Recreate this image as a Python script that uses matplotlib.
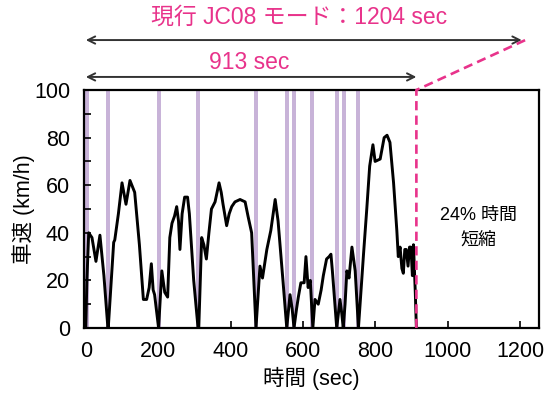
import matplotlib
matplotlib.use("Agg")
import matplotlib.pyplot as plt

plt.rcParams['font.family'] = ['Liberation Sans', 'Noto Sans CJK JP']

# JC08 speed trace, first 913 sec
time_sec = [0, 3, 8, 17, 28, 39, 50, 61,
            62, 77, 80, 90, 100, 111, 122, 135, 148, 159, 168, 175, 181, 186, 190, 201,
            210, 218, 226, 232, 238, 245, 251, 256, 260, 266, 273, 281, 286, 298, 310,
            312, 320, 326, 333, 340, 347, 357, 368, 374, 379, 389, 396, 403, 412, 426, 440, 448, 458, 470,
            481, 488, 500, 511, 523, 531, 545, 555,
            564, 570, 575, 582, 587, 594, 603, 608, 614, 620, 627,
            633, 642, 650, 656, 665, 672, 677, 681, 693,
            702, 707, 711, 716, 721, 727, 735, 744, 753,
            767, 776, 784, 793, 799, 813, 824, 832, 840, 850, 859, 863, 868, 873, 877,
            881, 885, 890, 894, 898, 902, 905, 910, 913]
speed_kmh = [0, 20, 40, 38, 28, 39, 22, 0,
             0, 36, 37, 48, 61, 52, 62, 57, 35, 12, 12, 17, 27, 16, 14, 0,
             24, 15, 13, 38, 44, 47, 51, 45, 33, 48, 55, 55, 48, 20, 0,
             0, 38, 35, 29, 40, 50, 53, 61, 57, 52, 43, 48, 51, 53, 54, 53, 47, 40, 0,
             26, 21, 33, 41, 54, 45, 19, 0,
             14, 8, 0, 8, 13, 19, 19, 30, 17, 20, 0,
             12, 10, 16, 22, 29, 30, 31, 24, 0,
             12, 6, 0, 10, 24, 21, 34, 24, 0,
             31, 50, 68, 77, 70, 71, 80, 81, 78, 61, 41, 30, 34, 25, 23,
             33, 33, 26, 34, 34, 22, 35, 15, 0]

# idle periods (purple bands), start/end in sec
idle_start = [-3, 55, 196, 304, 464, 549, 570, 620, 687, 707, 747]
idle_end = [9, 66, 207, 315, 475, 560, 581, 631, 698, 718, 758]

full_mode = 1204
short_mode = 913

fig = plt.figure(figsize=(5.49, 3.94), dpi=100)
ax = fig.add_axes([0.153, 0.1675, 0.829, 0.604])

for s, e in zip(idle_start, idle_end):
    ax.axvspan(s, e, color='#c8b3d8', lw=0, zorder=1)

ax.plot(time_sec, speed_kmh, color='black', lw=2.1, zorder=3)

pink = '#e8338b'
ax.plot([short_mode, short_mode, 1214], [0, 100, 121], color=pink, lw=1.9,
        ls=(0, (3.5, 2)), clip_on=False, zorder=4)

ax.set_xlim(-5, 1252)
ax.set_ylim(0, 100)
ax.set_xticks(range(0, 1201, 200))
ax.set_yticks(range(0, 101, 20))
ax.set_yticks(range(0, 101, 10), minor=True)
ax.tick_params(axis='both', which='both', direction='in', length=5, width=1.2,
               labelsize=15.5)
ax.tick_params(axis='x', pad=9)
ax.tick_params(axis='y', pad=10)
for sp in ax.spines.values():
    sp.set_linewidth(1.6)

ax.set_xlabel('時間 (sec)', fontsize=15.5, labelpad=4)
ax.set_ylabel('車速 (km/h)', fontsize=15.5, labelpad=-1)

# arrows above the axes
arrow_kw = dict(arrowstyle='<->', color='#333333', lw=1.4, shrinkA=0, shrinkB=0,
                mutation_scale=13)
ax.annotate('', xy=(0, 121), xytext=(full_mode, 121), annotation_clip=False,
            arrowprops=arrow_kw)
ax.annotate('', xy=(0, 105.5), xytext=(short_mode, 105.5), annotation_clip=False,
            arrowprops=arrow_kw)
ax.text(590, 130.5, '現行 JC08 モード：1204 sec', color=pink, fontsize=16.5,
        ha='center', va='center', clip_on=False)
ax.text(450, 111.5, '913 sec', color=pink, fontsize=16.5,
        ha='center', va='center', clip_on=False)

ax.text(1084, 42, '24% 時間\n短縮', fontsize=13, ha='center', va='center',
        linespacing=1.6)

fig.savefig('out.png', dpi=100)
